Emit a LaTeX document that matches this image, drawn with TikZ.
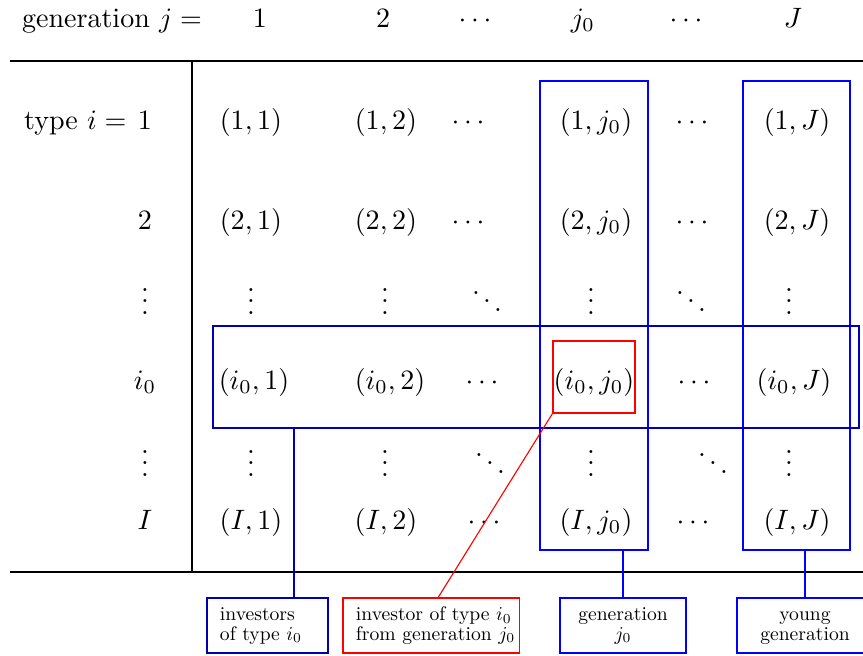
\documentclass[tikz,border=0pt]{standalone}
\usepackage{graphicx}
\usetikzlibrary{positioning, fit}

\newcommand{\notetext}[2]{\scalebox{0.7}{\begin{tabular}{@{}#1@{}}#2\end{tabular}}}

\begin{document}
\begin{tikzpicture}[
  x=0.01255cm, y=-0.01255cm,
  entry/.style = {text height=7.5pt, text depth=2.5pt, inner sep=0pt},
  dotcell/.style = {inner sep=0pt},
  hilite/.style = {draw=blue, inner sep=0pt},
  pick/.style = {draw=red, inner sep=0pt},
  note/.style = {draw=blue, minimum height=0.69cm, inner sep=1pt},
  leftnote/.style = {note, inner xsep=0.163cm, align=left},
  rule/.style = {line width=0.6pt}
]
  \useasboundingbox (0,0) rectangle (863,655);

  % Header row
  \node[entry] (head) at (112,20) {generation $j=$};
  \node[entry] (h_1) at (260,20) {$1$};
  \node[entry] (h_2) at (383,20) {$2$};
  \node[entry] (h_3) at (475,20) {$\cdots$};
  \node[entry] (h_4) at (583,20) {$j_0$};
  \node[entry] (h_5) at (686,20) {$\cdots$};
  \node[entry] (h_6) at (793,20) {$J$};

  % Row labels
  \node[entry, anchor=east] (typelab) at (127,122) {type $i=$};
  \node[entry] (r_1) at (145,122) {$1$};
  \node[entry] (r_2) at (145,222) {$2$};
  \node[dotcell] (r_3) at (145,293) {$\vdots$};
  \node[entry] (r_4) at (145,382) {$i_0$};
  \node[dotcell] (r_5) at (145,455) {$\vdots$};
  \node[entry] (r_6) at (145,522) {$I$};

  % Row 1
  \node[entry] (c_1_1) at (251,122) {$(1,1)$};
  \node[entry] (c_1_2) at (386,122) {$(1,2)$};
  \node[entry] (c_1_3) at (468,122) {$\cdots$};
  \node[entry] (c_1_4) at (596,122) {$(1,j_0)$};
  \node[entry] (c_1_5) at (692,122) {$\cdots$};
  \node[entry] (c_1_6) at (797,122) {$(1,J)$};

  % Row 2
  \node[entry] (c_2_1) at (251,222) {$(2,1)$};
  \node[entry] (c_2_2) at (386,222) {$(2,2)$};
  \node[entry] (c_2_3) at (468,222) {$\cdots$};
  \node[entry] (c_2_4) at (596,222) {$(2,j_0)$};
  \node[entry] (c_2_5) at (692,222) {$\cdots$};
  \node[entry] (c_2_6) at (797,222) {$(2,J)$};

  % First row of dots
  \node[dotcell] (c_3_1) at (251,293) {$\vdots$};
  \node[dotcell] (c_3_2) at (385,293) {$\vdots$};
  \node[dotcell] (c_3_3) at (487,293) {$\ddots$};
  \node[dotcell] (c_3_4) at (591,293) {$\vdots$};
  \node[dotcell] (c_3_5) at (691,293) {$\ddots$};
  \node[dotcell] (c_3_6) at (789,293) {$\vdots$};

  % Row i_0
  \node[entry] (c_4_1) at (254,382) {$(i_0,1)$};
  \node[entry] (c_4_2) at (390,382) {$(i_0,2)$};
  \node[entry] (c_4_3) at (482,382) {$\cdots$};
  \node[entry] (c_4_4) at (594,382) {$(i_0,j_0)$};
  \node[entry] (c_4_5) at (694,382) {$\cdots$};
  \node[entry] (c_4_6) at (794,382) {$(i_0,J)$};

  % Second row of dots
  \node[dotcell] (c_5_1) at (251,455) {$\vdots$};
  \node[dotcell] (c_5_2) at (385,455) {$\vdots$};
  \node[dotcell] (c_5_3) at (490,455) {$\ddots$};
  \node[dotcell] (c_5_4) at (591,455) {$\vdots$};
  \node[dotcell] (c_5_5) at (713,455) {$\ddots$};
  \node[dotcell] (c_5_6) at (789,455) {$\vdots$};

  % Row I
  \node[entry] (c_6_1) at (251,522) {$(I,1)$};
  \node[entry] (c_6_2) at (386,522) {$(I,2)$};
  \node[entry] (c_6_3) at (484,522) {$\cdots$};
  \node[entry] (c_6_4) at (596,522) {$(I,j_0)$};
  \node[entry] (c_6_5) at (693,522) {$\cdots$};
  \node[entry] (c_6_6) at (797,522) {$(I,J)$};

  % Table rules
  \draw[rule] (10,61) -- (863,61);
  \draw[rule] (10,572) -- (863,572);
  \draw (192,61) -- (192,572);

  % Highlight boxes
  \coordinate (col_nw) at (540,81);  \coordinate (col_se) at (648,550);
  \coordinate (last_nw) at (743,81); \coordinate (last_se) at (850,550);
  \coordinate (row_nw) at (213,326); \coordinate (row_se) at (859,428);
  \coordinate (pair_nw) at (553,341); \coordinate (pair_se) at (635,413);
  \node[hilite, fit=(col_nw)(col_se)] (colbox) {};
  \node[hilite, fit=(last_nw)(last_se)] (lastbox) {};
  \node[hilite, draw=blue!70!black, fit=(row_nw)(row_se)] (rowbox) {};
  \node[pick, fit=(pair_nw)(pair_se)] (pairbox) {};

  % Notes below the table
  \node[leftnote, draw=blue!70!black, text width=1.192cm] (typenote) at (267.5,625.5) {\notetext{l}{investors\\[-2pt]of type $i_0$}};
  \node[leftnote, draw=red, text width=1.883cm] (pairnote) at (431,625.5) {\notetext{l}{investor of type $i_0$\\[-2pt]from generation $j_0$}};
  \node[note, minimum width=1.581cm] (gennote) at (623,625.5) {\notetext{c}{generation\\[-2pt]$j_0$}};
  \node[note, minimum width=1.707cm] (youngnote) at (805,625.5) {\notetext{c}{young\\[-2pt]generation}};

  % Connectors
  \coordinate (rowtap) at (294,428);
  \draw[blue!70!black] (rowtap) -- (rowtap |- typenote.north);
  \draw[red] (pairbox.south west) -- ([xshift=0.09cm]pairnote.north);
  \draw[blue] (gennote.north) -- (gennote.north |- colbox.south);
  \draw[blue] (youngnote.north) -- (youngnote.north |- lastbox.south);
\end{tikzpicture}
\end{document}
